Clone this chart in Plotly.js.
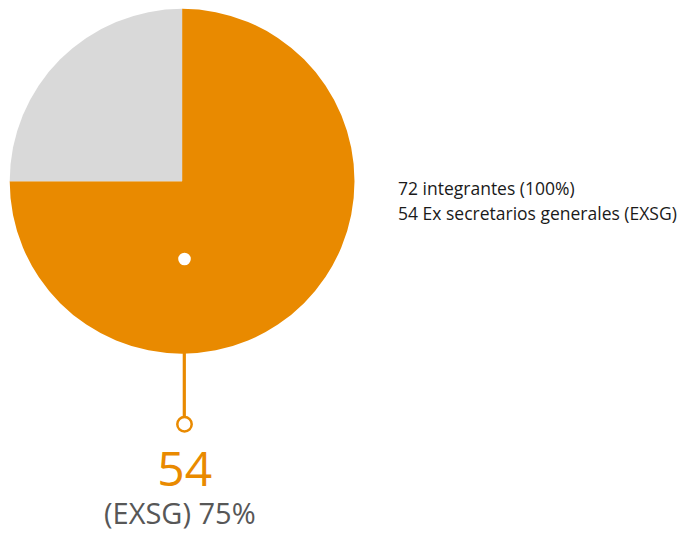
<!DOCTYPE html>
<html>
<head>
<meta charset="utf-8">
<script src="https://cdn.plot.ly/plotly-3.0.1.min.js"></script>
<style>html,body{margin:0;padding:0;background:#fff;}#chart{width:684px;height:533px;}</style>
</head>
<body>
<div id="chart"></div>
<script>
var labels = ["Ex secretarios generales (EXSG)", "Otros integrantes"];
var values = [54, 18];
var totalMembers = 72;
var colors = ["#E98A00", "#D9D9D9"];

var total = values[0] + values[1];
var pct = Math.round(values[0] / total * 100);

var W = 684, H = 533;
function px(x) { return x / W; }
function py(y) { return 1 - y / H; }

var data = [{
  type: "pie",
  labels: labels,
  values: values,
  sort: false,
  direction: "clockwise",
  rotation: 0,
  marker: { colors: colors, line: { width: 0 } },
  textinfo: "none",
  hoverinfo: "none",
  showlegend: false,
  domain: { x: [px(9.7), px(354.5)], y: [py(354), py(8.5)] }
}];

var orange = colors[0];
var layout = {
  width: W, height: H,
  margin: { l: 0, r: 0, t: 0, b: 0 },
  paper_bgcolor: "#fff",
  showlegend: false,
  shapes: [
    { type: "circle", xref: "paper", yref: "paper",
      x0: px(178.2), x1: px(190.8), y0: py(265.3), y1: py(252.7),
      fillcolor: "#fff", line: { width: 0 } },
    { type: "line", xref: "paper", yref: "paper",
      x0: px(184.3), x1: px(184.3), y0: py(353), y1: py(416.5),
      line: { color: orange, width: 3.2 } },
    { type: "circle", xref: "paper", yref: "paper",
      x0: px(177.3), x1: px(191.7), y0: py(431.5), y1: py(417.1),
      fillcolor: "#fff", line: { color: orange, width: 2.5 } }
  ],
  annotations: [
    { xref: "paper", yref: "paper", x: px(180), y: py(483), xanchor: "center", yanchor: "middle",
      align: "center",
      text: "<span style='font-size:38px'>&nbsp;</span><span style='font-size:48px;color:" + orange + "'>" +
            values[0] + "</span><br>(EXSG) " + pct + "%",
      showarrow: false,
      font: { family: "Open Sans", size: 29, color: "#575757" } },
    { xref: "paper", yref: "paper", x: px(396), y: py(188), xanchor: "left", yanchor: "middle",
      text: totalMembers + " integrantes (100%)", showarrow: false,
      font: { family: "Open Sans", size: 17.5, color: "#1a1a1a" } },
    { xref: "paper", yref: "paper", x: px(396), y: py(213), xanchor: "left", yanchor: "middle",
      text: values[0] + " Ex secretarios generales (EXSG)", showarrow: false,
      font: { family: "Open Sans", size: 17.5, color: "#1a1a1a" } }
  ]
};

Plotly.newPlot("chart", data, layout, { displayModeBar: false, staticPlot: true });
</script>
</body>
</html>
